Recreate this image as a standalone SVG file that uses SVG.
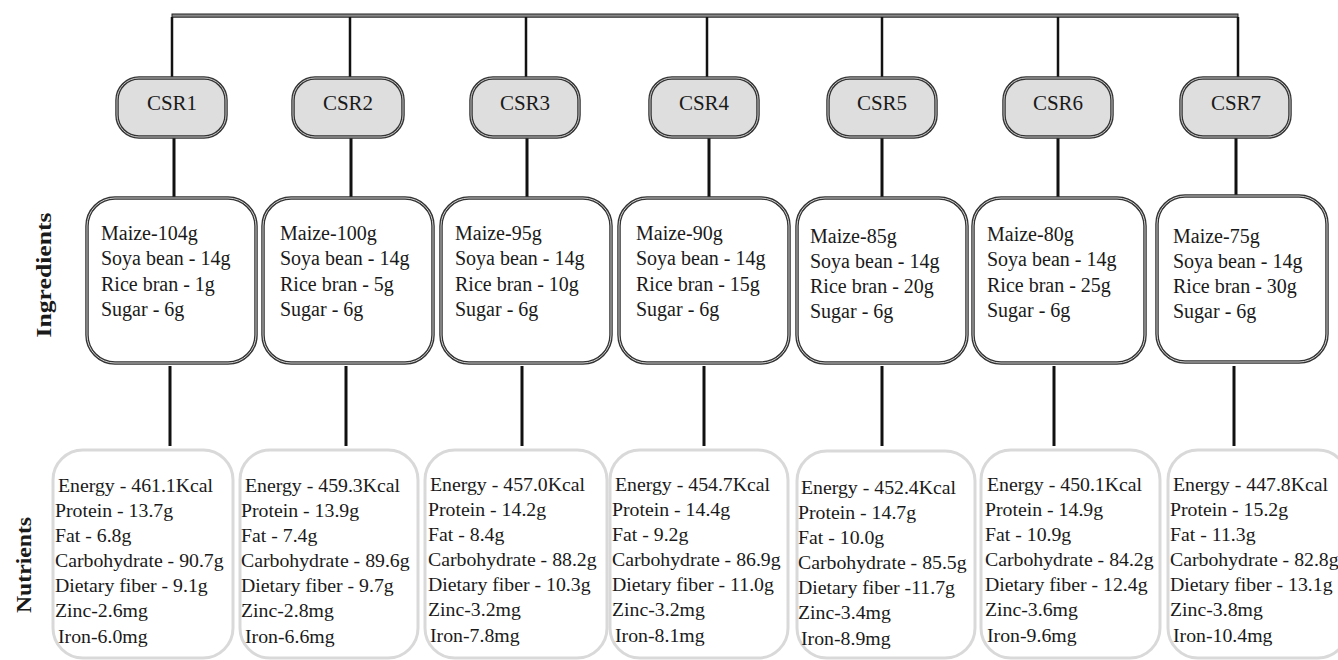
<svg xmlns="http://www.w3.org/2000/svg" width="1338" height="660" viewBox="0 0 1338 660" font-family="'Liberation Serif', 'Times New Roman', serif">
<style>
text{font-family:'Liberation Serif','Times New Roman',serif;fill:#1a1a1a}
.csr-o{fill:#dedede;stroke:#333;stroke-width:3.5}
.csr-i{fill:none;stroke:#c8c8c8;stroke-width:1}
.ing-o{fill:#fff;stroke:#333;stroke-width:3.5}
.ing-i{fill:none;stroke:#d0d0d0;stroke-width:1}
.nut{fill:#fff;stroke:#d9d9d9;stroke-width:3}
.lbl{font-size:21px;text-anchor:middle}
.ing{font-size:20px}
.nt{font-size:19.8px}
.side{font-size:21px;font-weight:bold;text-anchor:middle}
.ln{stroke:#111;stroke-width:2.5;fill:none}
.ln2{stroke:#111;stroke-width:3;fill:none}
</style>

<g id="connectors">
  <rect x="172" y="14" width="1066" height="3.2" fill="#888" stroke="#222" stroke-width="1"/>
  <path class="ln" d="M172 17V78M350 17V78M526 17V78M707 17V78M882 17V78M1058 17V78M1238 17V78"/>
  <path class="ln2" d="M174 137V198M351 137V198M527 137V198M709 137V198M882 137V198M1058 137V198M1236 137V196"/>
  <path class="ln2" d="M170 366V446M346 366V446M522 366V446M704 366V446M882 366V446M1054 366V446M1234 366V446"/>
</g>

<g id="side-labels">
  <text class="side" transform="translate(51,275) rotate(-90)" textLength="125" lengthAdjust="spacingAndGlyphs">Ingredients</text>
  <text class="side" transform="translate(31,565) rotate(-90)" textLength="96" lengthAdjust="spacingAndGlyphs">Nutrients</text>
</g>

<g id="csr1"><rect class="csr-o" x="117" y="78" width="109" height="59" rx="22"/><rect class="csr-i" x="117" y="78" width="109" height="59" rx="22"/><text class="lbl" x="172" y="110">CSR1</text></g>
<g id="csr2"><rect class="csr-o" x="293" y="78" width="110" height="59" rx="22"/><rect class="csr-i" x="293" y="78" width="110" height="59" rx="22"/><text class="lbl" x="348" y="110">CSR2</text></g>
<g id="csr3"><rect class="csr-o" x="471" y="78" width="108" height="59" rx="22"/><rect class="csr-i" x="471" y="78" width="108" height="59" rx="22"/><text class="lbl" x="525" y="110">CSR3</text></g>
<g id="csr4"><rect class="csr-o" x="650" y="78" width="108" height="59" rx="22"/><rect class="csr-i" x="650" y="78" width="108" height="59" rx="22"/><text class="lbl" x="704" y="110">CSR4</text></g>
<g id="csr5"><rect class="csr-o" x="828" y="78" width="108" height="59" rx="22"/><rect class="csr-i" x="828" y="78" width="108" height="59" rx="22"/><text class="lbl" x="882" y="110">CSR5</text></g>
<g id="csr6"><rect class="csr-o" x="1004" y="78" width="108" height="59" rx="22"/><rect class="csr-i" x="1004" y="78" width="108" height="59" rx="22"/><text class="lbl" x="1058" y="110">CSR6</text></g>
<g id="csr7"><rect class="csr-o" x="1181" y="78" width="109" height="59" rx="22"/><rect class="csr-i" x="1181" y="78" width="109" height="59" rx="22"/><text class="lbl" x="1236" y="110">CSR7</text></g>

<g id="ing1"><rect class="ing-o" x="87" y="198" width="169" height="165" rx="28"/><rect class="ing-i" x="87" y="198" width="169" height="165" rx="28"/>
  <text class="ing" x="101" y="240">Maize-104g</text><text class="ing" x="101" y="265">Soya bean - 14g</text><text class="ing" x="101" y="291">Rice bran - 1g</text><text class="ing" x="101" y="316">Sugar - 6g</text></g>
<g id="ing2"><rect class="ing-o" x="263" y="198" width="170" height="165" rx="28"/><rect class="ing-i" x="263" y="198" width="170" height="165" rx="28"/>
  <text class="ing" x="280" y="240">Maize-100g</text><text class="ing" x="280" y="265">Soya bean - 14g</text><text class="ing" x="280" y="291">Rice bran - 5g</text><text class="ing" x="280" y="316">Sugar - 6g</text></g>
<g id="ing3"><rect class="ing-o" x="441" y="198" width="170" height="165" rx="28"/><rect class="ing-i" x="441" y="198" width="170" height="165" rx="28"/>
  <text class="ing" x="455" y="240">Maize-95g</text><text class="ing" x="455" y="265">Soya bean - 14g</text><text class="ing" x="455" y="291">Rice bran - 10g</text><text class="ing" x="455" y="316">Sugar - 6g</text></g>
<g id="ing4"><rect class="ing-o" x="619" y="198" width="170" height="165" rx="28"/><rect class="ing-i" x="619" y="198" width="170" height="165" rx="28"/>
  <text class="ing" x="636" y="240">Maize-90g</text><text class="ing" x="636" y="265">Soya bean - 14g</text><text class="ing" x="636" y="291">Rice bran - 15g</text><text class="ing" x="636" y="316">Sugar - 6g</text></g>
<g id="ing5"><rect class="ing-o" x="797" y="198" width="170" height="165" rx="28"/><rect class="ing-i" x="797" y="198" width="170" height="165" rx="28"/>
  <text class="ing" x="810" y="243">Maize-85g</text><text class="ing" x="810" y="268">Soya bean - 14g</text><text class="ing" x="810" y="293">Rice bran - 20g</text><text class="ing" x="810" y="318">Sugar - 6g</text></g>
<g id="ing6"><rect class="ing-o" x="973" y="198" width="172" height="165" rx="28"/><rect class="ing-i" x="973" y="198" width="172" height="165" rx="28"/>
  <text class="ing" x="987" y="241">Maize-80g</text><text class="ing" x="987" y="266">Soya bean - 14g</text><text class="ing" x="987" y="292">Rice bran - 25g</text><text class="ing" x="987" y="317">Sugar - 6g</text></g>
<g id="ing7"><rect class="ing-o" x="1157" y="196" width="170" height="166" rx="28"/><rect class="ing-i" x="1157" y="196" width="170" height="166" rx="28"/>
  <text class="ing" x="1173" y="243">Maize-75g</text><text class="ing" x="1173" y="268">Soya bean - 14g</text><text class="ing" x="1173" y="293">Rice bran - 30g</text><text class="ing" x="1173" y="318">Sugar - 6g</text></g>

<g id="nut1"><rect class="nut" x="53" y="450" width="180" height="208" rx="30"/>
  <text class="nt" x="58" y="492">Energy - 461.1Kcal</text><text class="nt" x="55" y="517">Protein - 13.7g</text><text class="nt" x="55" y="542">Fat - 6.8g</text><text class="nt" x="55" y="567">Carbohydrate - 90.7g</text><text class="nt" x="55" y="592">Dietary fiber - 9.1g</text><text class="nt" x="55" y="617">Zinc-2.6mg</text><text class="nt" x="58" y="643">Iron-6.0mg</text></g>
<g id="nut2"><rect class="nut" x="240" y="450" width="178" height="208" rx="30"/>
  <text class="nt" x="245" y="492">Energy - 459.3Kcal</text><text class="nt" x="241" y="517">Protein - 13.9g</text><text class="nt" x="241" y="542">Fat - 7.4g</text><text class="nt" x="241" y="567">Carbohydrate - 89.6g</text><text class="nt" x="241" y="592">Dietary fiber - 9.7g</text><text class="nt" x="241" y="617">Zinc-2.8mg</text><text class="nt" x="245" y="643">Iron-6.6mg</text></g>
<g id="nut3"><rect class="nut" x="425" y="450" width="182" height="208" rx="30"/>
  <text class="nt" x="430" y="491">Energy - 457.0Kcal</text><text class="nt" x="428" y="516">Protein - 14.2g</text><text class="nt" x="428" y="541">Fat - 8.4g</text><text class="nt" x="428" y="566">Carbohydrate - 88.2g</text><text class="nt" x="428" y="591">Dietary fiber - 10.3g</text><text class="nt" x="428" y="616">Zinc-3.2mg</text><text class="nt" x="430" y="642">Iron-7.8mg</text></g>
<g id="nut4"><rect class="nut" x="610" y="450" width="178" height="208" rx="30"/>
  <text class="nt" x="615" y="491">Energy - 454.7Kcal</text><text class="nt" x="612" y="516">Protein - 14.4g</text><text class="nt" x="612" y="541">Fat - 9.2g</text><text class="nt" x="612" y="566">Carbohydrate - 86.9g</text><text class="nt" x="612" y="591">Dietary fiber - 11.0g</text><text class="nt" x="612" y="616">Zinc-3.2mg</text><text class="nt" x="615" y="642">Iron-8.1mg</text></g>
<g id="nut5"><rect class="nut" x="797" y="451" width="178" height="207" rx="30"/>
  <text class="nt" x="801" y="494">Energy - 452.4Kcal</text><text class="nt" x="798" y="519">Protein - 14.7g</text><text class="nt" x="798" y="544">Fat - 10.0g</text><text class="nt" x="798" y="569">Carbohydrate - 85.5g</text><text class="nt" x="798" y="594">Dietary fiber -11.7g</text><text class="nt" x="798" y="619">Zinc-3.4mg</text><text class="nt" x="801" y="645">Iron-8.9mg</text></g>
<g id="nut6"><rect class="nut" x="981" y="450" width="179" height="208" rx="30"/>
  <text class="nt" x="987" y="491">Energy - 450.1Kcal</text><text class="nt" x="985" y="516">Protein - 14.9g</text><text class="nt" x="985" y="541">Fat - 10.9g</text><text class="nt" x="985" y="566">Carbohydrate - 84.2g</text><text class="nt" x="985" y="591">Dietary fiber - 12.4g</text><text class="nt" x="985" y="616">Zinc-3.6mg</text><text class="nt" x="987" y="642">Iron-9.6mg</text></g>
<g id="nut7"><rect class="nut" x="1168" y="450" width="180" height="208" rx="30"/>
  <text class="nt" x="1173" y="491">Energy - 447.8Kcal</text><text class="nt" x="1170" y="516">Protein - 15.2g</text><text class="nt" x="1170" y="541">Fat - 11.3g</text><text class="nt" x="1170" y="566">Carbohydrate - 82.8g</text><text class="nt" x="1170" y="591">Dietary fiber - 13.1g</text><text class="nt" x="1170" y="616">Zinc-3.8mg</text><text class="nt" x="1173" y="642">Iron-10.4mg</text></g>
</svg>
